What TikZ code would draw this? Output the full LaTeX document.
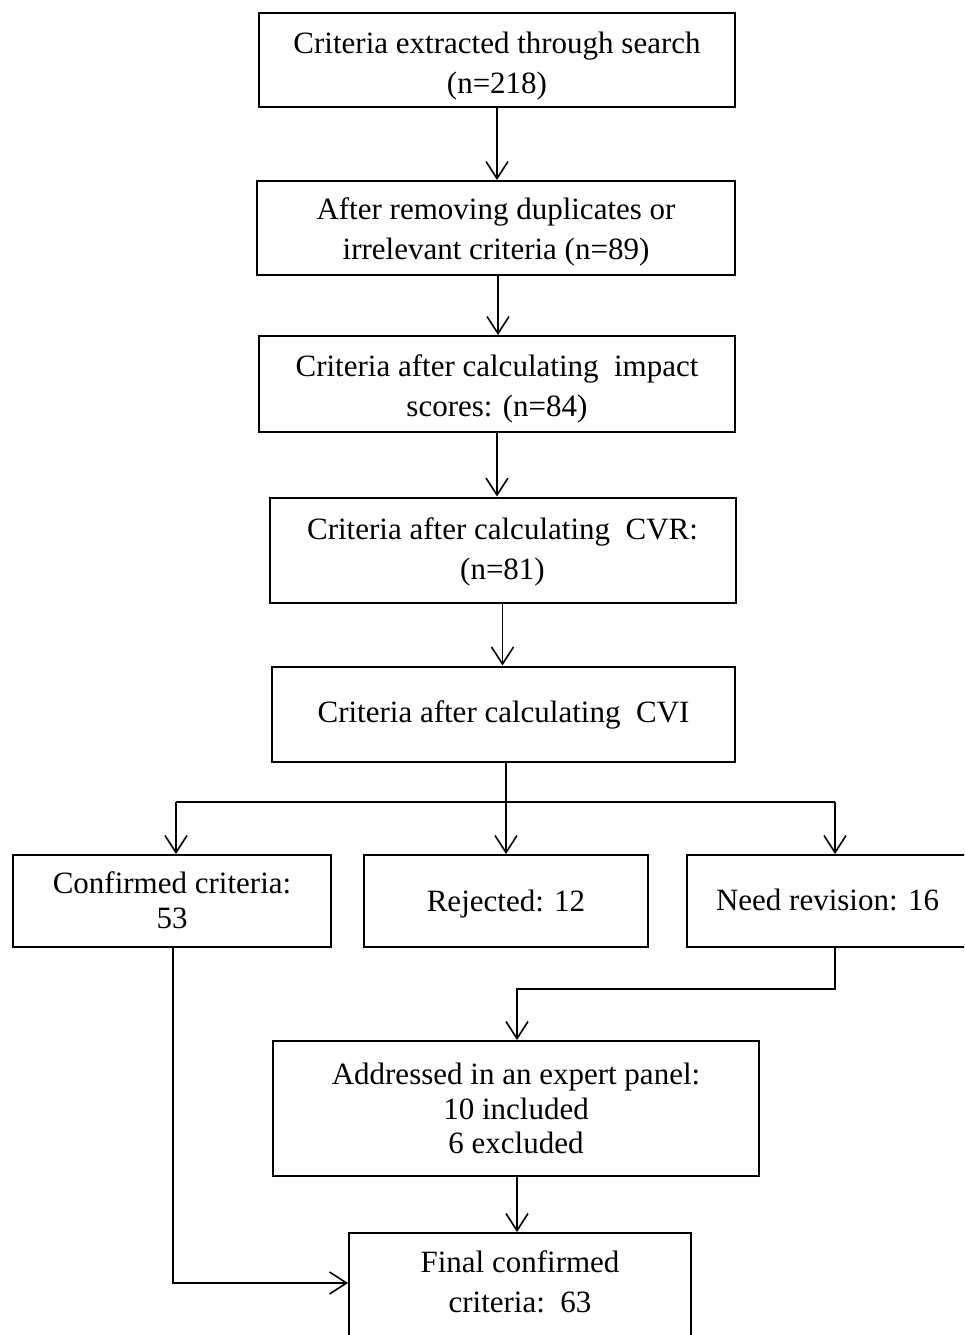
\documentclass[tikz,border=0pt]{standalone}
\usepackage{fontspec}
\setmainfont{Liberation Serif}
\usetikzlibrary{arrows.meta}
\begin{document}
\begin{tikzpicture}[x=1pt,y=-1pt,
  box/.style={draw, line width=2pt, rectangle, inner sep=0pt},
  txt/.style={align=center, inner sep=0pt, font=\fontsize{31}{40}\selectfont},
  tight/.style={font=\fontsize{31}{34.5}\selectfont},
  conn/.style={line width=1.6pt},
  arr/.style={conn, -{Straight Barb[length=17pt,width=22pt]}}]
\useasboundingbox (0,0) rectangle (964,1335);
\clip (0,0) rectangle (964,1335);

\node[box, minimum width=476pt, minimum height=94pt] (b1) at (497,60) {};
\node[txt] (t1) at ([yshift=-6pt]b1.center)
  {Criteria extracted through search\\(n=218)};
\node[box, minimum width=478pt, minimum height=94pt] (b2) at (496,228) {};
\node[txt] (t2) at ([yshift=-4pt]b2.center)
  {After removing duplicates or\\irrelevant criteria (n=89)};
\node[box, minimum width=476pt, minimum height=96pt] (b3) at (497,384) {};
\node[txt] (t3) at ([yshift=-5pt]b3.center)
  {Criteria after calculating\ \ impact\\scores: (n=84)};
\node[box, minimum width=466pt, minimum height=105pt] (b4) at (502.5,550) {};
\node[txt] (t4) at ([yshift=-2pt]b4.center)
  {Criteria after calculating\ \ CVR:\\(n=81)};
\node[box, minimum width=463pt, minimum height=95pt] (b5) at (503.5,714) {};
\node[txt] (t5) at ([yshift=-1pt]b5.center)
  {Criteria after calculating\ \ CVI};

\node[box, minimum width=318pt, minimum height=92pt] (b6) at (172,901) {};
\node[txt, tight] (t6) at ([yshift=1pt]b6.center) {Confirmed criteria:\\53};
\node[box, minimum width=284pt, minimum height=92pt] (b7) at (506,901) {};
\node[txt] (t7) at ([yshift=-3pt]b7.center) {Rejected: 12};
\node[box, minimum width=281pt, minimum height=92pt] (b8) at (827.5,901) {};
\node[txt] (t8) at ([yshift=1pt]b8.center) {Need revision: 16};

\node[box, minimum width=486pt, minimum height=135pt] (b9) at (516,1108.5) {};
\node[txt, tight] (t9) at (b9.center)
  {Addressed in an expert panel:\\10 included\\6 excluded};
\node[box, minimum width=342pt, minimum height=107pt] (b10) at (520,1286.5) {};
\node[txt] (t10) at ([yshift=5pt]b10.center) {Final confirmed\\criteria:\ \ 63};

\draw[arr] (b1.south) -- (b1.south |- b2.north);
\draw[arr] ([xshift=2pt]b2.south) -- ([xshift=2pt]b2.south |- b3.north);
\draw[arr] (b3.south) -- (b3.south |- b4.north);
\draw[arr] (b4.south) -- (b4.south |- b5.north);

\coordinate (jl) at (176,802);
\coordinate (jr) at (835,802);
\coordinate (jm) at (506,802);
\draw[conn] (b5.south -| jm) -- (jm);
\draw[conn] (jl) -- (jr);
\draw[arr] (jl) -- (jl |- b6.north);
\draw[arr] (jm) -- (jm |- b7.north);
\draw[arr] (jr) -- (jr |- b8.north);

\coordinate (k) at (517,989);
\draw[arr] (b8.south -| jr) |- (k) -- (k |- b9.north);
\draw[arr] (b9.south -| k) -- (k |- b10.north);

\draw[arr] ([xshift=1pt]b6.south) |- ([yshift=3.5pt]b10.west);
\end{tikzpicture}
\end{document}
